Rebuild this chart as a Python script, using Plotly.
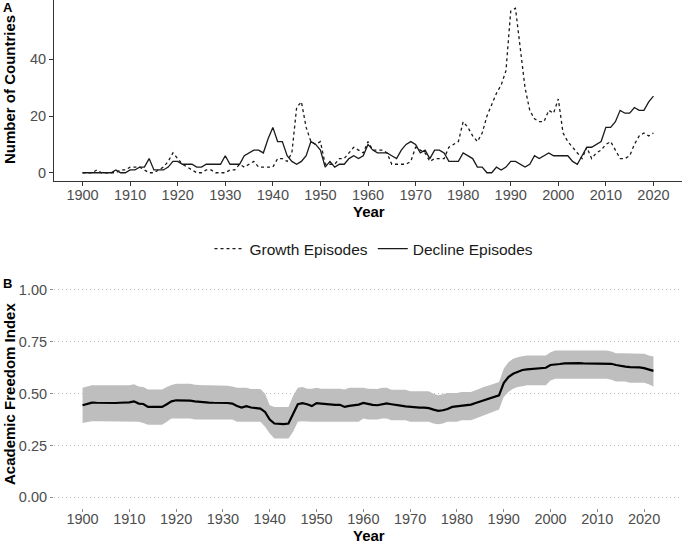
import plotly.graph_objects as go

# ---------------- Panel A data ----------------
years_a = list(range(1900, 2021))
growth = [
    0, 0, 0, 1, 0, 0, 0, 0, 1, 1,
    2, 2, 2, 1, 0, 0, 1, 2, 4, 7,
    5, 3, 2, 1, 0, 0, 1, 1, 0, 0,
    0, 1, 1, 3, 2, 3, 4, 2, 2, 2,
    2, 5, 5, 4, 7, 23, 25, 16, 11, 10,
    11, 3, 3, 3, 5, 5, 7, 9, 8, 7,
    11, 8, 8, 8, 7, 3, 3, 3, 3, 4,
    9, 8, 7, 4, 5, 5, 5, 9, 10, 11,
    18, 16, 13, 11, 14, 20, 24, 28, 31, 36,
    57, 58, 44, 30, 22, 19, 18, 18, 22, 21,
    26, 14, 11, 9, 7, 5, 9, 5, 7, 8,
    10, 11, 8, 5, 5, 6, 10, 13, 14, 13, 14,
]
decline = [
    0, 0, 0, 0, 0, 0, 0, 1, 0, 0,
    1, 1, 2, 2, 5, 1, 1, 1, 2, 4,
    4, 3, 3, 3, 2, 2, 3, 3, 3, 3,
    6, 3, 3, 3, 6, 7, 8, 8, 7, 12,
    16, 11, 11, 6, 4, 3, 4, 6, 11, 10,
    8, 2, 4, 2, 3, 3, 5, 6, 5, 6,
    10, 8, 7, 7, 7, 6, 5, 8, 10, 11,
    10, 7, 8, 5, 8, 8, 7, 4, 4, 4,
    7, 6, 5, 2, 2, 0, 0, 2, 1, 2,
    4, 4, 3, 2, 3, 6, 5, 6, 7, 6,
    6, 6, 6, 4, 3, 6, 9, 9, 10, 11,
    16, 16, 18, 22, 21, 21, 23, 22, 22, 25, 27,
]

# ---------------- Panel B data ----------------
years_b = list(range(1900, 2023))
afi_mean = [
    0.444, 0.452, 0.457, 0.456, 0.455, 0.455, 0.455, 0.455, 0.456, 0.457,
    0.458, 0.463, 0.452, 0.450, 0.436, 0.436, 0.436, 0.436, 0.449, 0.463,
    0.468, 0.468, 0.468, 0.466, 0.463, 0.460, 0.458, 0.457, 0.456, 0.456,
    0.453, 0.455, 0.452, 0.440, 0.433, 0.440, 0.433, 0.431, 0.428, 0.412,
    0.375, 0.356, 0.353, 0.353, 0.356, 0.400, 0.449, 0.454, 0.449, 0.440,
    0.454, 0.452, 0.449, 0.446, 0.446, 0.446, 0.436, 0.441, 0.444, 0.447,
    0.455, 0.449, 0.446, 0.444, 0.449, 0.453, 0.449, 0.444, 0.442, 0.439,
    0.436, 0.436, 0.433, 0.433, 0.430, 0.423, 0.417, 0.420, 0.426, 0.436,
    0.439, 0.440, 0.444, 0.447, 0.455, 0.463, 0.470, 0.476, 0.484, 0.492,
    0.551, 0.580, 0.596, 0.607, 0.614, 0.617, 0.619, 0.619, 0.620, 0.625,
    0.638, 0.639, 0.643, 0.646, 0.647, 0.647, 0.647, 0.646, 0.646, 0.647,
    0.647, 0.647, 0.647, 0.644, 0.638, 0.633, 0.630, 0.628, 0.628, 0.627,
    0.623, 0.617, 0.610,
]
afi_upper = [
    0.529, 0.536, 0.540, 0.540, 0.540, 0.540, 0.540, 0.540, 0.540, 0.540,
    0.540, 0.545, 0.535, 0.532, 0.520, 0.520, 0.520, 0.520, 0.532, 0.542,
    0.548, 0.548, 0.548, 0.548, 0.543, 0.540, 0.540, 0.540, 0.540, 0.540,
    0.540, 0.538, 0.535, 0.529, 0.529, 0.529, 0.522, 0.522, 0.522, 0.500,
    0.444, 0.436, 0.436, 0.436, 0.436, 0.490, 0.529, 0.532, 0.524, 0.524,
    0.529, 0.524, 0.524, 0.524, 0.524, 0.524, 0.520, 0.529, 0.529, 0.529,
    0.529, 0.524, 0.524, 0.522, 0.529, 0.529, 0.519, 0.519, 0.519, 0.519,
    0.511, 0.511, 0.511, 0.511, 0.511, 0.500, 0.492, 0.497, 0.503, 0.503,
    0.503, 0.508, 0.508, 0.508, 0.516, 0.526, 0.535, 0.540, 0.548, 0.556,
    0.620, 0.652, 0.668, 0.676, 0.680, 0.684, 0.684, 0.684, 0.684, 0.684,
    0.700, 0.708, 0.708, 0.708, 0.708, 0.708, 0.708, 0.708, 0.708, 0.708,
    0.708, 0.708, 0.708, 0.703, 0.695, 0.695, 0.695, 0.692, 0.692, 0.692,
    0.692, 0.684, 0.679,
]
afi_lower = [
    0.359, 0.364, 0.367, 0.367, 0.367, 0.367, 0.367, 0.367, 0.367, 0.367,
    0.367, 0.367, 0.364, 0.359, 0.350, 0.350, 0.350, 0.350, 0.364, 0.380,
    0.380, 0.380, 0.380, 0.380, 0.375, 0.375, 0.375, 0.375, 0.375, 0.375,
    0.375, 0.375, 0.375, 0.364, 0.364, 0.364, 0.364, 0.364, 0.364, 0.340,
    0.308, 0.284, 0.284, 0.284, 0.284, 0.316, 0.364, 0.367, 0.364, 0.364,
    0.364, 0.364, 0.364, 0.364, 0.364, 0.364, 0.364, 0.364, 0.364, 0.364,
    0.380, 0.375, 0.375, 0.375, 0.380, 0.380, 0.372, 0.372, 0.372, 0.372,
    0.364, 0.364, 0.364, 0.364, 0.364, 0.356, 0.353, 0.356, 0.364, 0.364,
    0.364, 0.372, 0.372, 0.372, 0.380, 0.388, 0.396, 0.404, 0.412, 0.423,
    0.484, 0.508, 0.524, 0.532, 0.536, 0.540, 0.540, 0.540, 0.540, 0.540,
    0.564, 0.572, 0.572, 0.572, 0.572, 0.572, 0.572, 0.572, 0.572, 0.572,
    0.572, 0.572, 0.572, 0.567, 0.559, 0.559, 0.559, 0.553, 0.553, 0.553,
    0.553, 0.545, 0.535,
]

x_ticks = list(range(1900, 2021, 10))
y_ticks_a = [0, 20, 40]
y_ticks_b = [0.00, 0.25, 0.50, 0.75, 1.00]
y_ticklabels_b = ["0.00", "0.25", "0.50", "0.75", "1.00"]

W, H = 685, 543
FONT = "Liberation Sans, Arial, sans-serif"
TICK_COL = "#4D4D4D"

fig = go.Figure()

# Panel A lines
fig.add_trace(go.Scatter(
    x=years_a, y=growth, mode="lines", name="Growth Episodes",
    line=dict(color="#1a1a1a", width=1.3, dash="dot"),
    xaxis="x", yaxis="y",
))
fig.add_trace(go.Scatter(
    x=years_a, y=decline, mode="lines", name="Decline Episodes",
    line=dict(color="#1a1a1a", width=1.3),
    xaxis="x", yaxis="y",
))

# Panel B band + mean
fig.add_trace(go.Scatter(
    x=years_b, y=afi_upper, mode="lines", line=dict(width=0, color="#BEBEBE"),
    showlegend=False, hoverinfo="skip", xaxis="x2", yaxis="y2",
))
fig.add_trace(go.Scatter(
    x=years_b, y=afi_lower, mode="lines", line=dict(width=0, color="#BEBEBE"),
    fill="tonexty", fillcolor="#BEBEBE",
    showlegend=False, hoverinfo="skip", xaxis="x2", yaxis="y2",
))
fig.add_trace(go.Scatter(
    x=years_b, y=afi_mean, mode="lines", line=dict(width=2.2, color="black"),
    showlegend=False, xaxis="x2", yaxis="y2",
))

xdom = [54 / W, 682 / W]
ydom_a = [1 - 181 / H, 1.0]
ydom_b = [(H - 507.7) / H, (H - 279.6) / H]

tickfont = dict(family=FONT, size=14.5, color=TICK_COL)

fig.update_layout(
    template="none",
    width=W, height=H,
    margin=dict(l=0, r=0, t=0, b=0, pad=0),
    paper_bgcolor="white", plot_bgcolor="white",
    font=dict(family=FONT),
    showlegend=True,
    legend=dict(
        orientation="h", x=374 / W, xanchor="center",
        y=1 - 249 / H, yanchor="middle", traceorder="normal",
        font=dict(family=FONT, size=15.5, color="#1a1a1a"),
        itemwidth=30, bgcolor="rgba(0,0,0,0)", borderwidth=0,
    ),
    xaxis=dict(
        domain=xdom, anchor="y", range=[1894, 2026], automargin=False,
        tickvals=x_ticks, ticks="outside", ticklen=4, tickcolor="#333333",
        ticklabelstandoff=-3,
        showline=True, linecolor="#333333", linewidth=1,
        showgrid=False, zeroline=False, tickfont=tickfont,
    ),
    yaxis=dict(
        domain=ydom_a, anchor="x", range=[-2.9, 60.9], automargin=False,
        tickvals=y_ticks_a, ticks="outside", ticklen=4, tickcolor="#333333",
        showline=True, linecolor="#333333", linewidth=1,
        showgrid=False, zeroline=False, tickfont=tickfont,
    ),
    xaxis2=dict(
        domain=xdom, anchor="y2", range=[1893.9, 2028.1], automargin=False,
        tickvals=x_ticks, ticks="outside", ticklen=3, tickcolor="#8a8a8a",
        ticklabelstandoff=-5,
        showline=False, showgrid=False, zeroline=False, tickfont=tickfont,
    ),
    yaxis2=dict(
        domain=ydom_b, anchor="x2", range=[-0.05, 1.05], automargin=False,
        tickvals=y_ticks_b, ticktext=y_ticklabels_b,
        ticks="outside", ticklen=3, tickcolor="#8a8a8a",
        showline=False, showgrid=True, gridcolor="#bdbdbd", gridwidth=1,
        griddash="1px,3px", zeroline=False, tickfont=tickfont,
    ),
)

title_font = dict(family=FONT, size=15, color="black")
ann = [
    dict(text="<b>Year</b>", x=369 / W, y=1 - 211 / H),
    dict(text="<b>Year</b>", x=369 / W, y=1 - 535 / H),
    dict(text="<b>Number of Countries</b>", x=9 / W, y=1 - 90 / H, textangle=-90),
    dict(text="<b>Academic Freedom Index</b>", x=9 / W, y=1 - 394 / H, textangle=-90),
]
for a in ann:
    fig.add_annotation(xref="paper", yref="paper", showarrow=False,
                       xanchor="center", yanchor="middle", font=title_font, **a)
fig.add_annotation(text="<b>A</b>", xref="paper", yref="paper", x=1 / W, y=1 - 8 / H,
                   xanchor="left", yanchor="middle", showarrow=False,
                   font=dict(family=FONT, size=13, color="black"))
fig.add_annotation(text="<b>B</b>", xref="paper", yref="paper", x=1 / W, y=1 - 283 / H,
                   xanchor="left", yanchor="middle", showarrow=False,
                   font=dict(family=FONT, size=13, color="black"))

fig.write_html(
    "out.html",
    config={"displayModeBar": False},
    post_script="document.body.style.margin='0';document.body.style.padding='0';",
)
